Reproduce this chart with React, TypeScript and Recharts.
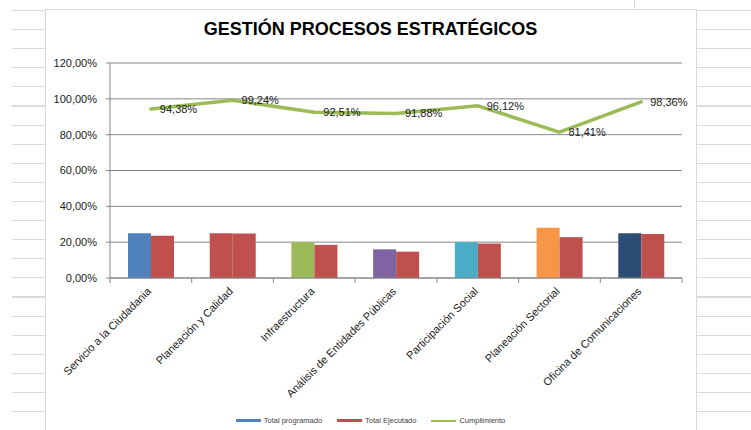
import {
  ComposedChart, Bar, Line, XAxis, YAxis, CartesianGrid, Cell, LabelList,
} from 'recharts';

const categories = [
  'Servicio a la Ciudadania',
  'Planeación y Calidad',
  'Infraestructura',
  'Análisis de Entidades Públicas',
  'Participación Social',
  'Planeación Sectorial',
  'Oficina de Comunicaciones',
];
const totalProgramado = [25, 25, 20, 16, 20, 28, 25];
const totalEjecutado = [23.6, 24.81, 18.5, 14.7, 19.22, 22.79, 24.59];
const cumplimiento = [94.38, 99.24, 92.51, 91.88, 96.12, 81.41, 98.36];
const programadoColors = ['#4F81BD', '#C0504D', '#9BBB59', '#8064A2', '#4BACC6', '#F79646', '#2C4D75'];
const yTicks = [0, 20, 40, 60, 80, 100, 120];

const data = categories.map((name, i) => ({
  name,
  programado: totalProgramado[i],
  ejecutado: totalEjecutado[i],
  cumplimiento: cumplimiento[i],
}));

const FONT = '"Liberation Sans", Arial, sans-serif';
const AXIS = '#868686';

const pct = (v: number) => `${Number(v).toFixed(2).replace('.', ',')}%`;

function CategoryTick(props: any) {
  const { x, y, payload, index } = props;
  const half = payload?.offset ?? 0;
  const tx = x + 1;
  const ty = y + 14;
  return (
    <g>
      <line x1={x - half} x2={x - half} y1={y} y2={y + 5} stroke={AXIS} />
      {index === categories.length - 1 && (
        <line x1={x + half} x2={x + half} y1={y} y2={y + 5} stroke={AXIS} />
      )}
      <text
        x={tx}
        y={ty}
        transform={`rotate(-45 ${tx} ${ty})`}
        textAnchor="end"
        fontSize={11}
        fontFamily={FONT}
        fill="#1a1a1a"
      >
        {payload.value}
      </text>
    </g>
  );
}

function LegendItem({ color, label, thin }: { color: string; label: string; thin?: boolean }) {
  return (
    <div style={{ display: 'flex', alignItems: 'center', gap: 3 }}>
      <div style={{ width: 25, height: thin ? 2 : 3, background: color }} />
      <span style={{ fontSize: 7.5, color: '#404040' }}>{label}</span>
    </div>
  );
}

export default function App() {
  return (
    <div
      style={{
        position: 'absolute', left: 0, top: 0, width: 751, height: 430,
        overflow: 'hidden', background: '#fff', fontFamily: FONT,
      }}
    >
      {/* spreadsheet cells around the chart */}
      <div
        style={{
          position: 'absolute', left: 12, top: 10, width: 33, height: 420,
          backgroundImage: 'repeating-linear-gradient(to bottom, #dadada 0, #dadada 1px, transparent 1px, transparent 19.1px)',
        }}
      />
      <div
        style={{
          position: 'absolute', left: 696, top: 10, width: 55, height: 420,
          backgroundImage: 'repeating-linear-gradient(to bottom, #dadada 0, #dadada 1px, transparent 1px, transparent 19.1px)',
        }}
      />
      <div style={{ position: 'absolute', left: 634, top: 0, width: 1, height: 9, background: '#dadada' }} />
      <div
        style={{
          position: 'absolute', left: 45, top: 9, width: 650, height: 430,
          background: '#fff', borderLeft: '1px solid #d9d9d9', borderTop: '1px solid #d9d9d9',
          borderRight: '1px solid #d9d9d9',
        }}
      />

      <div
        style={{
          position: 'absolute', left: 45, top: 19, width: 651, textAlign: 'center',
          fontSize: 18, fontWeight: 'bold', color: '#000',
        }}
      >
        GESTIÓN PROCESOS ESTRATÉGICOS
      </div>

      <div style={{ position: 'absolute', left: 0, top: 0 }}>
        <ComposedChart
          width={751}
          height={430}
          data={data}
          margin={{ top: 63, right: 69, bottom: 0, left: 50 }}
          barGap={0}
        >
          <CartesianGrid vertical={false} stroke={AXIS} />
          <XAxis
            dataKey="name"
            interval={0}
            height={152}
            axisLine={{ stroke: AXIS }}
            tickLine={false}
            tickSize={0}
            tickMargin={0}
            tick={<CategoryTick />}
          />
          <YAxis
            width={60}
            domain={[0, 120]}
            ticks={yTicks}
            tickFormatter={pct}
            axisLine={{ stroke: AXIS }}
            tickLine={{ stroke: AXIS }}
            tickSize={4}
            tickMargin={9}
            tick={{ fontSize: 11, fill: '#1a1a1a', fontFamily: FONT }}
          />
          <Bar dataKey="programado" barSize={23} isAnimationActive={false}>
            {data.map((d, i) => (
              <Cell key={d.name} fill={programadoColors[i]} />
            ))}
          </Bar>
          <Bar dataKey="ejecutado" barSize={23} fill="#C0504D" isAnimationActive={false} />
          <Line
            dataKey="cumplimiento"
            type="linear"
            stroke="#9BBB59"
            strokeWidth={3.5}
            strokeLinecap="round"
            dot={false}
            isAnimationActive={false}
          >
            <LabelList
              dataKey="cumplimiento"
              position="right"
              offset={9}
              formatter={(v: any) => pct(v)}
              style={{ fontSize: 11, fill: '#1a1a1a', fontFamily: FONT }}
            />
          </Line>
        </ComposedChart>
      </div>

      <div
        style={{
          position: 'absolute', left: 45, top: 416, width: 651,
          display: 'flex', justifyContent: 'center', gap: 15,
        }}
      >
        <LegendItem color="#4F81BD" label="Total programado" />
        <LegendItem color="#C0504D" label="Total Ejecutado" />
        <LegendItem color="#9BBB59" label="Cumplimiento" thin />
      </div>
    </div>
  );
}
